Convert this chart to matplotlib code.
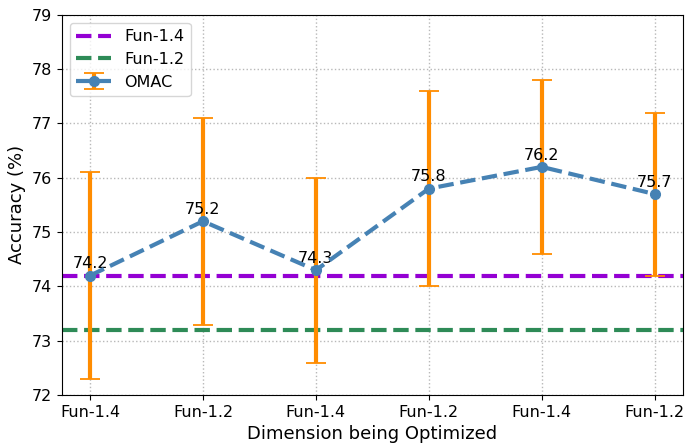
import matplotlib

matplotlib.use("Agg")
import matplotlib.pyplot as plt

labels = ["Fun-1.4", "Fun-1.2", "Fun-1.4", "Fun-1.2", "Fun-1.4", "Fun-1.2"]
omac = [74.2, 75.2, 74.3, 75.8, 76.2, 75.7]
err_low = [72.3, 73.3, 72.6, 74.0, 74.6, 74.2]
err_high = [76.1, 77.1, 76.0, 77.6, 77.8, 77.2]
base_14 = 74.2
base_12 = 73.2

x = list(range(len(labels)))
yerr = [
    [v - lo for v, lo in zip(omac, err_low)],
    [hi - v for v, hi in zip(omac, err_high)],
]

fig, ax = plt.subplots(figsize=(6.87, 4.46), dpi=100)
fig.subplots_adjust(left=0.09, right=0.994, top=0.967, bottom=0.114)

ax.axhline(base_14, color="#9400D3", linestyle="--", linewidth=3, label="Fun-1.4", zorder=2)
ax.axhline(base_12, color="#2E8B57", linestyle="--", linewidth=3, label="Fun-1.2", zorder=2)
ax.errorbar(
    x, omac, yerr=yerr,
    fmt="o--", color="#4682B4", linewidth=3, markersize=7,
    ecolor="#FF8C00", elinewidth=3, capsize=7, capthick=1.3,
    label="OMAC", zorder=3,
)
for xi, v in zip(x, omac):
    ax.annotate(f"{v}", (xi, v), xytext=(0, 3), textcoords="offset points",
                ha="center", va="bottom", fontsize=11.5)

ax.set_ylim(72, 79)
ax.set_xticks(x)
ax.set_xticklabels(labels)
ax.tick_params(labelsize=11.5)
ax.set_xlabel("Dimension being Optimized", fontsize=13)
ax.set_ylabel("Accuracy (%)", fontsize=13)
ax.grid(True, linestyle=":", color="#b8b8b8", linewidth=1)
ax.legend(loc="upper left", fontsize=11.5, handlelength=2.2)

plt.savefig("out.png", dpi=100)
plt.close(fig)
